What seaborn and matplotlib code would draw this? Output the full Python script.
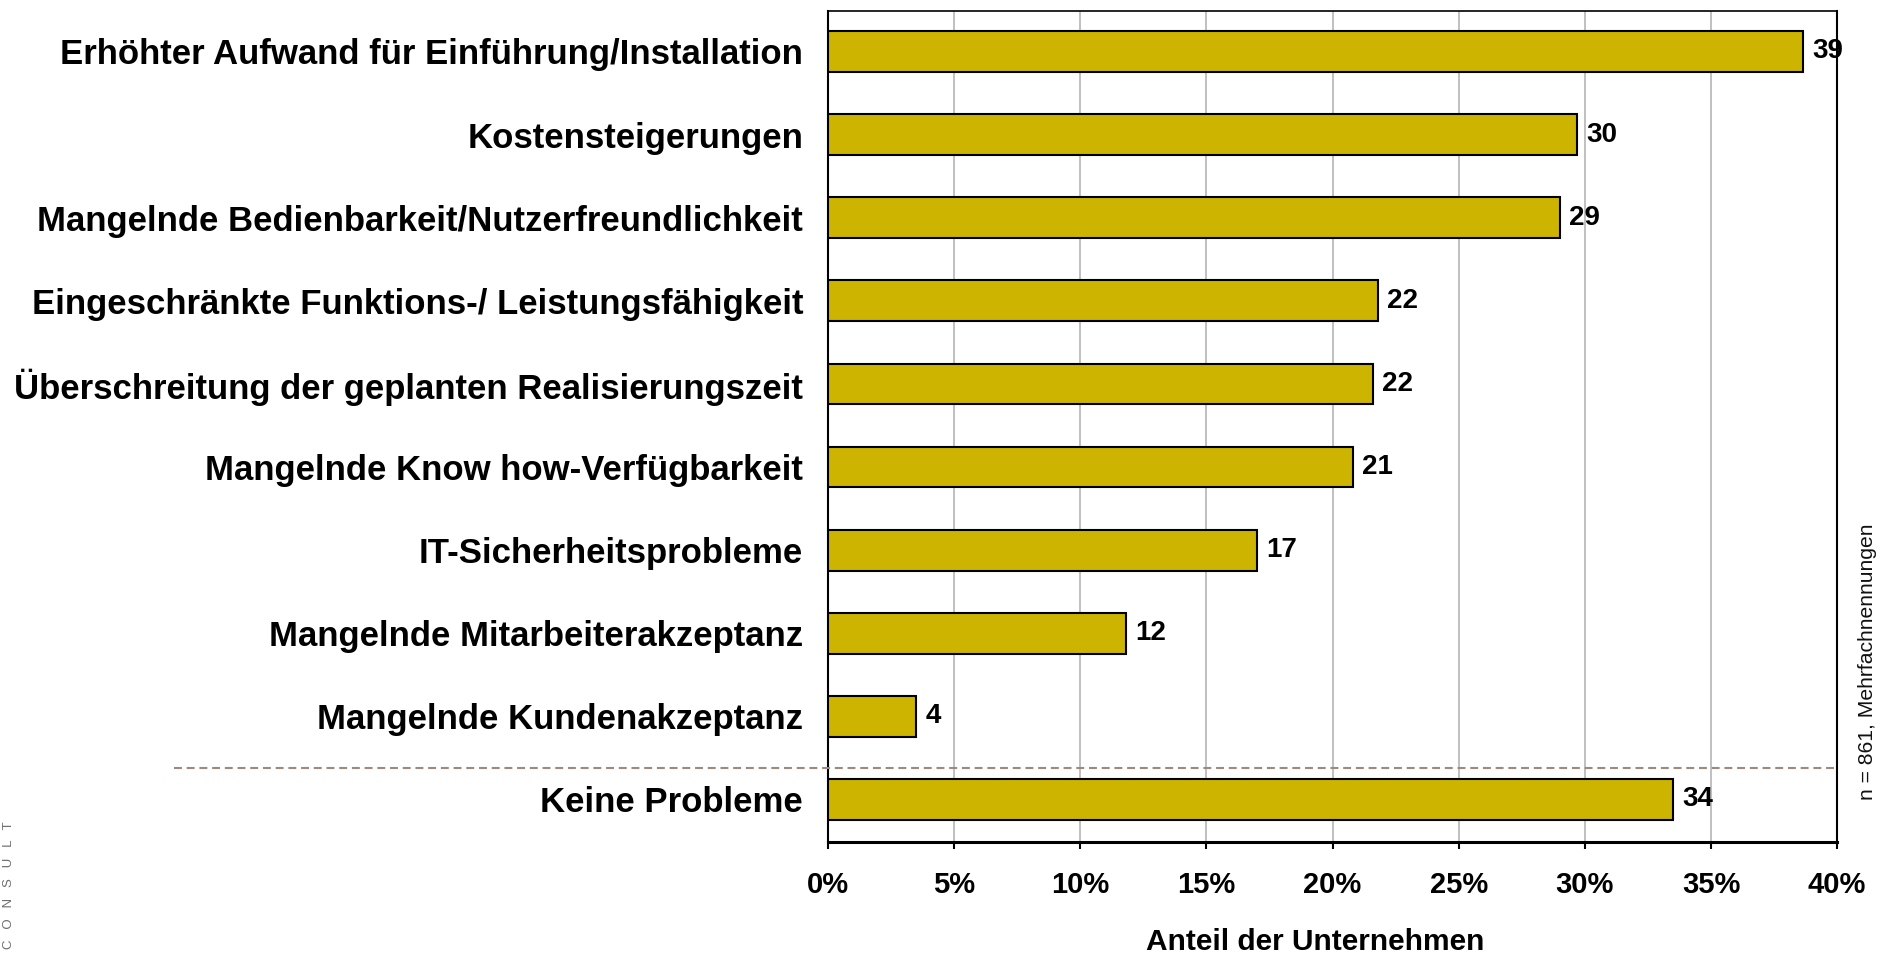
import matplotlib
matplotlib.use("Agg")
import matplotlib.pyplot as plt
import seaborn as sns
import pandas as pd
from matplotlib.ticker import PercentFormatter

categories = [
    "Erhöhter Aufwand für Einführung/Installation",
    "Kostensteigerungen",
    "Mangelnde Bedienbarkeit/Nutzerfreundlichkeit",
    "Eingeschränkte Funktions-/ Leistungsfähigkeit",
    "Überschreitung der geplanten Realisierungszeit",
    "Mangelnde Know how-Verfügbarkeit",
    "IT-Sicherheitsprobleme",
    "Mangelnde Mitarbeiterakzeptanz",
    "Mangelnde Kundenakzeptanz",
    "Keine Probleme",
]
values = [38.65, 29.7, 29.0, 21.8, 21.6, 20.8, 17.0, 11.8, 3.5, 33.5]
value_labels = ["39", "30", "29", "22", "22", "21", "17", "12", "4", "34"]
x_ticks = [0, 5, 10, 15, 20, 25, 30, 35, 40]

sns.set_theme(style="white")
plt.rcParams["font.family"] = ["Liberation Sans", "DejaVu Sans"]
plt.rcParams["text.color"] = "black"
plt.rcParams["xtick.color"] = "black"
plt.rcParams["ytick.color"] = "black"
plt.rcParams["axes.labelcolor"] = "black"

df = pd.DataFrame({"Kategorie": categories, "Anteil": values})

fig = plt.figure(figsize=(18.85, 9.57), dpi=100)
ax = fig.add_axes([0.4393, 0.1202, 0.5353, 0.8683])

sns.barplot(data=df, x="Anteil", y="Kategorie", color="#CCB400", saturation=1,
            edgecolor="black", linewidth=1.5, width=0.49, ax=ax, zorder=3)

ax.bar_label(ax.containers[0], labels=value_labels, padding=6.5,
             fontsize=20, fontweight="bold", color="black", zorder=5)

ax.set_xlim(0, 40)
ax.set_ylim(9.511, -0.487)
ax.set_xticks(x_ticks)
ax.xaxis.set_major_formatter(PercentFormatter(decimals=0))
ax.grid(axis="x", color="#c0c0c0", linewidth=1.4, zorder=0)
ax.grid(axis="y", visible=False)

for s in ["left", "right", "bottom", "top"]:
    ax.spines[s].set_color("black")
ax.spines["left"].set_linewidth(1.5)
ax.spines["right"].set_linewidth(1.5)
ax.spines["top"].set_linewidth(1.2)
ax.spines["bottom"].set_linewidth(2.2)

ax.tick_params(axis="x", direction="out", length=5, width=1.5, color="black",
               pad=16, labelsize=21, bottom=True)
ax.tick_params(axis="y", length=0, pad=18, labelsize=25)
for lbl in ax.get_xticklabels() + ax.get_yticklabels():
    lbl.set_fontweight("bold")

ax.set_ylabel("")
ax.set_xlabel("Anteil der Unternehmen", fontsize=21.5, fontweight="bold")
ax.xaxis.set_label_coords(0.483, -0.103)

ax.axhline(8.62, xmin=-0.648, xmax=1.0, color="#a0897c", linestyle=(0, (3.8, 2.3)),
           linewidth=1.5, clip_on=False, zorder=4)

fig.text(0.9905, 0.164, "n = 861, Mehrfachnennungen", rotation=90,
         ha="center", va="bottom", fontsize=15.2, color="#111111")
fig.text(0.0048, 0.008, "C   O   N   S   U   L   T", rotation=90,
         ha="center", va="bottom", fontsize=9.5, color="#6f6f6f")

fig.savefig("out.png", dpi=100)
